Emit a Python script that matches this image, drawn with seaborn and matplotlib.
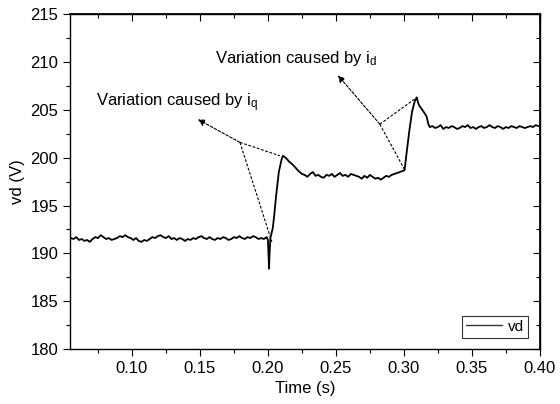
import numpy as np
import pandas as pd
import matplotlib
matplotlib.use("Agg")
import matplotlib.pyplot as plt
import seaborn as sns
from matplotlib.ticker import MultipleLocator

# ---- data ----
t_seg1 = np.round(np.arange(0.055, 0.2, 0.002), 4)
v_seg1 = [191.6, 191.5, 191.7, 191.4, 191.5, 191.3, 191.4, 191.2, 191.5, 191.7,
          191.6, 191.9, 191.7, 191.5, 191.6, 191.4, 191.5, 191.6, 191.8, 191.7,
          191.9, 191.7, 191.6, 191.4, 191.6, 191.3, 191.2, 191.4, 191.3, 191.5,
          191.7, 191.6, 191.8, 191.9, 191.7, 191.6, 191.8, 191.5, 191.6, 191.4,
          191.6, 191.5, 191.3, 191.5, 191.4, 191.6, 191.5, 191.7, 191.8, 191.6,
          191.5, 191.7, 191.5, 191.4, 191.6, 191.5, 191.7, 191.6, 191.4, 191.5,
          191.7, 191.6, 191.8, 191.6, 191.5, 191.7, 191.6, 191.8, 191.7, 191.5,
          191.6, 191.5, 191.7]
t_tr1 = [0.2000, 0.2005, 0.2008, 0.2012, 0.2018, 0.2025, 0.2035, 0.2045, 0.2060,
         0.2080, 0.2100, 0.2110, 0.2130, 0.2155, 0.2180, 0.2200, 0.2225, 0.2250]
v_tr1 = [191.4, 189.5, 188.4, 190.0, 191.6, 192.0, 192.6, 193.8, 196.0,
         198.5, 199.8, 200.2, 200.0, 199.6, 199.3, 199.0, 198.6, 198.3]
t_seg2 = np.round(np.arange(0.227, 0.3, 0.002), 4)
v_seg2 = [198.2, 198.0, 198.3, 198.5, 198.1, 198.2, 198.0, 197.9, 198.2, 198.1,
          198.3, 198.0, 198.2, 198.4, 198.1, 198.2, 198.0, 198.3, 198.2, 198.1,
          198.0, 197.8, 198.1, 197.9, 198.2, 198.0, 197.8, 197.9, 197.7, 197.9,
          198.1, 198.0, 198.2, 198.3, 198.4, 198.5, 198.6]
t_tr2 = [0.3005, 0.3020, 0.3040, 0.3060, 0.3080, 0.3095, 0.3105, 0.3115, 0.3130,
         0.3150, 0.3167, 0.3180, 0.3190]
v_tr2 = [198.7, 200.5, 202.8, 204.8, 205.9, 206.3, 205.7, 205.4, 205.1,
         204.7, 204.3, 203.5, 203.2]
t_seg3 = np.round(np.arange(0.321, 0.4, 0.002), 4)
v_seg3 = [203.3, 203.1, 203.2, 203.4, 203.0, 203.2, 203.1, 203.3, 203.2, 203.0,
          203.1, 203.3, 203.2, 203.4, 203.1, 203.2, 203.0, 203.2, 203.3, 203.1,
          203.2, 203.4, 203.2, 203.1, 203.3, 203.2, 203.0, 203.2, 203.1, 203.3,
          203.2, 203.1, 203.3, 203.2, 203.1, 203.2, 203.3, 203.2, 203.4, 203.3]

x_ticks = [0.10, 0.15, 0.20, 0.25, 0.30, 0.35, 0.40]
y_ticks = [180, 185, 190, 195, 200, 205, 210, 215]

time = np.concatenate([t_seg1, t_tr1, t_seg2, t_tr2, t_seg3])
vd = np.concatenate([v_seg1, v_tr1, v_seg2, v_tr2, v_seg3])
df = pd.DataFrame({"Time": time, "vd": vd})

sns.set_theme(style="ticks")
plt.rcParams["font.family"] = ["Liberation Sans", "DejaVu Sans"]
plt.rcParams["mathtext.fontset"] = "custom"
plt.rcParams["mathtext.rm"] = "Liberation Sans"
plt.rcParams["mathtext.it"] = "Liberation Sans"
for key in ["text.color", "axes.labelcolor", "xtick.color", "ytick.color",
            "axes.edgecolor"]:
    plt.rcParams[key] = "black"

fig = plt.figure(figsize=(5.6, 4.04), dpi=100)
ax = fig.add_axes([0.125, 0.136, 0.839, 0.829])

sns.lineplot(data=df, x="Time", y="vd", ax=ax, color="black", lw=1.3,
             label="vd", sort=False, estimator=None)

ax.set_xlim(0.0544, 0.40)
ax.set_ylim(180, 215)
ax.set_xticks(x_ticks)
ax.set_xticklabels([f"{v:.2f}" for v in x_ticks])
ax.set_yticks(y_ticks)
ax.xaxis.set_minor_locator(MultipleLocator(0.025))
ax.yaxis.set_minor_locator(MultipleLocator(2.5))
ax.tick_params(axis="both", which="major", direction="out", length=5, width=0.8,
               labelsize=12, colors="black")
ax.tick_params(axis="both", which="minor", direction="out", length=3, width=0.8)
for spine in ax.spines.values():
    spine.set_visible(True)
    spine.set_color("black")
    spine.set_linewidth(1.0)
# top/right ticks pointing inward
ax2 = ax.secondary_xaxis("top")
ax2.set_xticks(x_ticks)
ax2.xaxis.set_minor_locator(MultipleLocator(0.025))
ax2.tick_params(which="major", direction="in", length=5, width=0.8)
ax2.tick_params(which="minor", direction="in", length=3, width=0.8)
ax2.set_xticklabels([])
ax3 = ax.secondary_yaxis("right")
ax3.set_yticks(y_ticks)
ax3.yaxis.set_minor_locator(MultipleLocator(2.5))
ax3.tick_params(which="major", direction="in", length=5, width=0.8)
ax3.tick_params(which="minor", direction="in", length=3, width=0.8)
ax3.set_yticklabels([])

ax.set_xlabel("Time (s)", fontsize=12)
ax.set_ylabel("vd (V)", fontsize=12)

dash = dict(color="black", lw=0.8, linestyle=(0, (2.5, 1.5)))
# annotation for i_q
vq = (0.1794, 201.6)
ax.annotate("", xy=(0.1485, 204.0), xytext=vq,
            arrowprops=dict(arrowstyle="-|>", color="black", lw=0.8,
                            linestyle=(0, (2.5, 1.5)), mutation_scale=10,
                            shrinkA=0, shrinkB=0))
ax.plot([vq[0], 0.2088], [vq[1], 200.2], **dash)
ax.plot([vq[0], 0.2029], [vq[1], 191.2], **dash)
ax.text(0.0735, 205.7, r"Variation caused by i$_\mathrm{q}$", fontsize=12,
        ha="left", va="center")
# annotation for i_d
vdd = (0.2823, 203.5)
ax.annotate("", xy=(0.2515, 208.6), xytext=vdd,
            arrowprops=dict(arrowstyle="-|>", color="black", lw=0.8,
                            linestyle=(0, (2.5, 1.5)), mutation_scale=10,
                            shrinkA=0, shrinkB=0))
ax.plot([vdd[0], 0.3096], [vdd[1], 206.3], **dash)
ax.plot([vdd[0], 0.3007], [vdd[1], 198.7], **dash)
ax.text(0.161, 210.4, r"Variation caused by i$_\mathrm{d}$", fontsize=12,
        ha="left", va="center")

leg = ax.legend(loc="lower right", fontsize=11, frameon=True, fancybox=False,
                edgecolor="black", borderpad=0.25, borderaxespad=0.75,
                handlelength=2.4, handletextpad=0.4)
leg.get_frame().set_linewidth(0.8)
for line in leg.get_lines():
    line.set_linewidth(1.0)
    line.set_color("#333333")

fig.savefig("out.png", dpi=100)
